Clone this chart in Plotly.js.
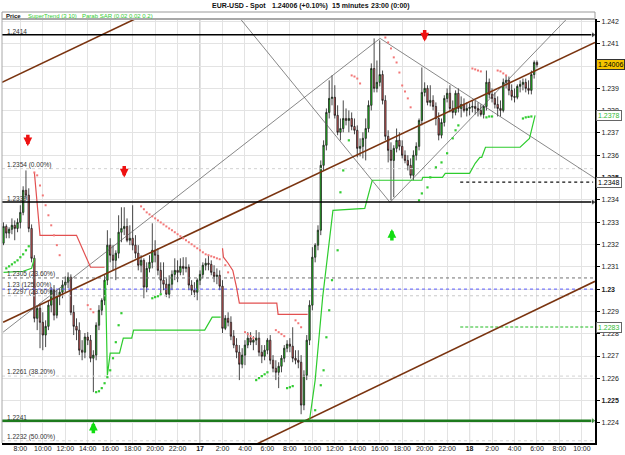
<!DOCTYPE html>
<html><head><meta charset="utf-8">
<script src="https://cdn.plot.ly/plotly-3.0.1.min.js"></script>
<style>html,body{margin:0;padding:0;background:#fff}#chart{width:625px;height:455px}</style>
</head><body><div id="chart"></div>
<script>
// ---------- candles: EUR-USD 15 minutes, first bar 16th 06:30 ----------
const firstBar = Date.UTC(2018, 0, 16, 6, 30);
const barMinutes = 15;
const open = [1.23206,1.23281,1.23251,1.23268,1.23286,1.23272,1.23299,1.23344,1.23443,1.23421,1.23272,1.23138,1.22869,1.22914,1.22851,1.22794,1.22833,1.22928,1.22995,1.22883,1.22968,1.22986,1.23018,1.23031,1.23053,1.22896,1.22833,1.22816,1.22726,1.22717,1.22785,1.22771,1.22690,1.22704,1.22838,1.22905,1.22950,1.23040,1.23197,1.23152,1.23129,1.23161,1.23255,1.23272,1.23281,1.23219,1.23228,1.23197,1.23161,1.23107,1.23129,1.23009,1.23093,1.23120,1.23174,1.23152,1.23084,1.23040,1.23022,1.22977,1.23022,1.23066,1.23084,1.23075,1.23102,1.23093,1.23098,1.23018,1.22995,1.22986,1.23040,1.23066,1.23107,1.23116,1.23111,1.23075,1.23057,1.23062,1.23013,1.22824,1.22869,1.22851,1.22789,1.22749,1.22717,1.22663,1.22704,1.22749,1.22780,1.22762,1.22771,1.22780,1.22717,1.22699,1.22726,1.22771,1.22681,1.22645,1.22627,1.22654,1.22690,1.22735,1.22753,1.22744,1.22690,1.22681,1.22672,1.22480,1.22614,1.22771,1.22928,1.23143,1.23197,1.23264,1.23555,1.23645,1.23792,1.23855,1.23860,1.23779,1.23703,1.23720,1.23765,1.23756,1.23765,1.23729,1.23712,1.23631,1.23640,1.23676,1.23720,1.23824,1.23989,1.23900,1.23927,1.23962,1.23846,1.23685,1.23622,1.23577,1.23631,1.23667,1.23640,1.23600,1.23577,1.23555,1.23510,1.23600,1.23640,1.23756,1.23882,1.23900,1.23837,1.23846,1.23819,1.23765,1.23690,1.23747,1.23855,1.23878,1.23810,1.23792,1.23878,1.23810,1.23828,1.23801,1.23810,1.23815,1.23819,1.23810,1.23801,1.23783,1.23819,1.23927,1.23873,1.23855,1.23828,1.23810,1.23801,1.23927,1.23936,1.23891,1.23864,1.23860,1.23909,1.23918,1.23927,1.23900,1.23891,1.23962,1.24016];
const high = [1.23299,1.23290,1.23277,1.23317,1.23308,1.23317,1.23376,1.23461,1.23532,1.23452,1.23290,1.23152,1.22928,1.22937,1.22896,1.22860,1.22950,1.23009,1.23018,1.22995,1.23004,1.23040,1.23057,1.23075,1.23066,1.22928,1.22869,1.22851,1.22771,1.22803,1.22807,1.22794,1.22726,1.22851,1.22928,1.22959,1.23062,1.23264,1.23228,1.23197,1.23174,1.23331,1.23367,1.23367,1.23317,1.23286,1.23376,1.23242,1.23197,1.23152,1.23138,1.23120,1.23152,1.23295,1.23219,1.23183,1.23120,1.23120,1.23048,1.23062,1.23084,1.23138,1.23129,1.23138,1.23143,1.23143,1.23111,1.23040,1.23031,1.23048,1.23084,1.23120,1.23138,1.23152,1.23129,1.23107,1.23093,1.23084,1.23040,1.22883,1.22896,1.22878,1.22816,1.22780,1.22749,1.22735,1.22771,1.22807,1.22807,1.22789,1.22816,1.22807,1.22749,1.22749,1.22780,1.22794,1.22704,1.22681,1.22672,1.22704,1.22749,1.22771,1.22780,1.22829,1.22726,1.22726,1.22704,1.22636,1.22794,1.22950,1.23188,1.23206,1.23286,1.23577,1.23667,1.23810,1.23936,1.23958,1.23914,1.23824,1.23765,1.23846,1.23810,1.23801,1.23792,1.23765,1.23734,1.23676,1.23703,1.23765,1.23846,1.24012,1.24124,1.24025,1.24115,1.23980,1.23869,1.23712,1.23658,1.23645,1.23720,1.23703,1.23667,1.23622,1.23600,1.23586,1.23622,1.23658,1.23765,1.23994,1.23927,1.23914,1.23914,1.23869,1.23837,1.23792,1.23765,1.23869,1.23900,1.23914,1.23846,1.23891,1.23900,1.23864,1.23855,1.23837,1.23833,1.23846,1.23846,1.23837,1.23828,1.23824,1.23980,1.23944,1.23900,1.23882,1.23864,1.23846,1.23944,1.23958,1.23953,1.23918,1.23900,1.23918,1.23936,1.23944,1.23944,1.23936,1.23980,1.24025,1.24025];
const low = [1.23197,1.23228,1.23228,1.23246,1.23219,1.23255,1.23272,1.23331,1.23407,1.23255,1.23120,1.22851,1.22816,1.22735,1.22726,1.22740,1.22816,1.22896,1.22860,1.22869,1.22928,1.22959,1.22986,1.23004,1.22883,1.22794,1.22771,1.22704,1.22681,1.22690,1.22749,1.22672,1.22538,1.22681,1.22816,1.22883,1.22928,1.23018,1.23120,1.23084,1.23040,1.23138,1.23210,1.23242,1.23210,1.23197,1.23174,1.23138,1.23084,1.23075,1.22959,1.22986,1.23075,1.23093,1.23120,1.23062,1.22982,1.22995,1.22964,1.22959,1.22995,1.23040,1.23031,1.23062,1.23062,1.23075,1.22995,1.22973,1.22964,1.22950,1.23018,1.23048,1.23084,1.23084,1.23062,1.23031,1.23022,1.22995,1.22803,1.22816,1.22833,1.22771,1.22735,1.22690,1.22592,1.22645,1.22659,1.22735,1.22749,1.22726,1.22749,1.22699,1.22668,1.22681,1.22708,1.22663,1.22627,1.22592,1.22556,1.22627,1.22672,1.22717,1.22717,1.22672,1.22663,1.22645,1.22439,1.22457,1.22592,1.22749,1.22905,1.23120,1.23174,1.23242,1.23532,1.23622,1.23765,1.23824,1.23765,1.23690,1.23667,1.23703,1.23734,1.23703,1.23712,1.23694,1.23591,1.23595,1.23586,1.23577,1.23703,1.23801,1.23882,1.23882,1.23909,1.23828,1.23667,1.23568,1.23398,1.23412,1.23613,1.23622,1.23586,1.23564,1.23532,1.23496,1.23488,1.23577,1.23622,1.23734,1.23864,1.23824,1.23819,1.23801,1.23734,1.23667,1.23676,1.23729,1.23837,1.23792,1.23765,1.23779,1.23792,1.23770,1.23792,1.23774,1.23779,1.23792,1.23783,1.23774,1.23774,1.23765,1.23801,1.23855,1.23837,1.23810,1.23774,1.23774,1.23792,1.23900,1.23869,1.23846,1.23837,1.23851,1.23882,1.23891,1.23882,1.23873,1.23873,1.23944,1.23994];
const close = [1.23281,1.23251,1.23268,1.23286,1.23272,1.23299,1.23344,1.23443,1.23421,1.23272,1.23138,1.22869,1.22914,1.22851,1.22794,1.22833,1.22928,1.22995,1.22883,1.22968,1.22986,1.23018,1.23031,1.23053,1.22896,1.22833,1.22816,1.22726,1.22717,1.22785,1.22771,1.22690,1.22704,1.22838,1.22905,1.22950,1.23040,1.23197,1.23152,1.23129,1.23161,1.23255,1.23272,1.23281,1.23219,1.23228,1.23197,1.23161,1.23107,1.23129,1.23009,1.23093,1.23120,1.23174,1.23152,1.23084,1.23040,1.23022,1.22977,1.23022,1.23066,1.23084,1.23075,1.23102,1.23093,1.23098,1.23018,1.22995,1.22986,1.23040,1.23066,1.23107,1.23116,1.23111,1.23075,1.23057,1.23062,1.23013,1.22824,1.22869,1.22851,1.22789,1.22749,1.22717,1.22663,1.22704,1.22749,1.22780,1.22762,1.22771,1.22780,1.22717,1.22699,1.22726,1.22771,1.22681,1.22645,1.22627,1.22654,1.22690,1.22735,1.22753,1.22744,1.22690,1.22681,1.22672,1.22480,1.22614,1.22771,1.22928,1.23143,1.23197,1.23264,1.23555,1.23645,1.23792,1.23855,1.23860,1.23779,1.23703,1.23720,1.23765,1.23756,1.23765,1.23729,1.23712,1.23631,1.23640,1.23676,1.23720,1.23824,1.23989,1.23900,1.23927,1.23962,1.23846,1.23685,1.23622,1.23577,1.23631,1.23667,1.23640,1.23600,1.23577,1.23555,1.23510,1.23600,1.23640,1.23756,1.23882,1.23900,1.23837,1.23846,1.23819,1.23765,1.23690,1.23747,1.23855,1.23878,1.23810,1.23792,1.23878,1.23810,1.23828,1.23801,1.23810,1.23815,1.23819,1.23810,1.23801,1.23783,1.23819,1.23927,1.23873,1.23855,1.23828,1.23810,1.23801,1.23927,1.23936,1.23891,1.23864,1.23860,1.23909,1.23918,1.23927,1.23900,1.23891,1.23962,1.24016,1.24006];

// ---------- SuperTrend (3 10) ----------
const stGreen1T = ['2018-01-16 06:30','2018-01-16 08:15','2018-01-16 09:00','2018-01-16 09:15'];
const stGreen1P = [1.23075,1.23080,1.23093,1.23138];
const stRed1T = ['2018-01-16 09:15','2018-01-16 09:45','2018-01-16 13:00','2018-01-16 14:15','2018-01-16 15:30'];
const stRed1P = [1.23523,1.23241,1.23241,1.23098,1.23098];
const stGreen2T = ['2018-01-16 15:35','2018-01-16 15:45','2018-01-16 16:00','2018-01-16 16:50','2018-01-16 17:10','2018-01-16 17:55','2018-01-16 18:05','2018-01-17 00:25','2018-01-17 01:05','2018-01-17 01:50'];
const stGreen2P = [1.23040,1.22614,1.22713,1.22713,1.22780,1.22780,1.22816,1.22816,1.22874,1.22874];
const stRed2T = ['2018-01-17 02:00','2018-01-17 02:05','2018-01-17 02:30','2018-01-17 02:55','2018-01-17 03:15','2018-01-17 03:30','2018-01-17 06:50','2018-01-17 06:57','2018-01-17 09:35'];
const stRed2P = [1.23183,1.23143,1.23116,1.23084,1.23008,1.22937,1.22937,1.22887,1.22887];
const stGreen3T = ['2018-01-17 09:45','2018-01-17 10:15','2018-01-17 10:55','2018-01-17 11:35','2018-01-17 11:50','2018-01-17 14:40','2018-01-17 15:20','2018-01-17 19:45','2018-01-17 19:50','2018-01-17 21:35','2018-01-17 21:50','2018-01-18 00:00','2018-01-18 00:30','2018-01-18 00:55','2018-01-18 01:05','2018-01-18 01:25','2018-01-18 04:30','2018-01-18 05:20','2018-01-18 05:50'];
const stGreen3P = [1.22412,1.22592,1.22963,1.23232,1.23353,1.23362,1.23488,1.23488,1.23501,1.23501,1.23519,1.23519,1.23564,1.23591,1.23591,1.23636,1.23636,1.23676,1.23779];

// ---------- Parabolic SAR (bar index, value) ----------
const sarUpIdx = [1,2,3,4,5,6,7,8,9,33,34,35,36,37,38,39,40,41,42,53,54,55,56,90,91,92,93,94,101,102,103,111,113,114,115,116,117,119,120,121,123,148,149,151,152,154,156,158,160,161,162,172,173,174,185,186,187,188];
const sarUpVal = [1.23093,1.23102,1.23111,1.23120,1.23129,1.23143,1.23156,1.23174,1.23192,1.22538,1.22542,1.22556,1.22578,1.22605,1.22636,1.22690,1.22762,1.22838,1.22892,1.22959,1.22964,1.22968,1.22977,1.22592,1.22601,1.22610,1.22618,1.22627,1.22556,1.22560,1.22565,1.22457,1.22569,1.22636,1.22784,1.22905,1.23040,1.23174,1.23434,1.23532,1.23667,1.23398,1.23429,1.23456,1.23501,1.23546,1.23568,1.23609,1.23676,1.23712,1.23734,1.23770,1.23774,1.23774,1.23765,1.23770,1.23772,1.23774];
const sarDnIdx = [11,12,13,14,15,16,17,18,19,20,30,31,32,49,50,51,52,53,54,55,56,57,58,59,60,61,62,63,64,65,66,67,68,69,70,71,72,73,74,75,76,77,79,80,86,87,88,89,97,98,99,100,104,105,106,124,125,126,127,136,137,138,139,140,141,142,143,144,145,167,168,169,170,176,177,178,179];
const sarDnVal = [1.23523,1.23510,1.23465,1.23420,1.23376,1.23331,1.23286,1.23241,1.23197,1.23152,1.22928,1.22910,1.22896,1.23371,1.23358,1.23344,1.23335,1.23326,1.23317,1.23308,1.23299,1.23290,1.23281,1.23272,1.23264,1.23255,1.23246,1.23237,1.23228,1.23219,1.23210,1.23201,1.23192,1.23183,1.23174,1.23165,1.23156,1.23152,1.23147,1.23143,1.23138,1.23134,1.23107,1.23075,1.22807,1.22798,1.22789,1.22780,1.22816,1.22807,1.22798,1.22789,1.22860,1.22847,1.22829,1.23958,1.23953,1.23944,1.23922,1.24128,1.24106,1.24079,1.24039,1.24016,1.23971,1.23913,1.23886,1.23855,1.23815,1.23989,1.23985,1.23980,1.23976,1.23980,1.23976,1.23967,1.23958];

// ---------- drawn trend lines (two anchor points each) ----------
const brownLineT = [['2018-01-16 06:22','2018-01-16 18:40'],['2018-01-16 06:28','2018-01-18 11:10'],['2018-01-17 04:27','2018-01-18 11:10']];
const brownLineP = [[1.23927,1.24222],[1.22851,1.24106],[1.22291,1.23035]];
const thinLineT = [['2018-01-16 06:28','2018-01-17 16:02'],['2018-01-17 16:02','2018-01-18 11:10'],['2018-01-17 03:34','2018-01-17 16:55'],['2018-01-17 16:55','2018-01-18 08:41']];
const thinLineP = [[1.22807,1.24124],[1.24124,1.23497],[1.24213,1.23389],[1.23389,1.24213]];

// ---------- horizontal levels ----------
const lineStart = '2018-01-16 06:22';
const lineEnd = '2018-01-18 11:00';
const blackLevels = [1.2414, 1.2339];
const blackLabels = ['1.2414', '1.2339'];
const supportLevel = 1.2241;
const supportLabel = '1.2241';
const fibPrices = [1.2354, 1.2305, 1.2300, 1.2297, 1.2261, 1.2232];
const fibLabels = ['1.2354 (0.00%)', '1.2305 (23.60%)', '1.23 (125.00%)', '1.2297 (23.60%)', '1.2261 (38.20%)', '1.2232 (50.00%)'];
const partStart = '2018-01-17 23:10';
const dottedLevel = 1.2348;
const greenDashLevel = 1.2283;

// ---------- signal arrows ----------
const sellTimes = ['2018-01-16 08:40', '2018-01-16 17:15', '2018-01-17 20:00'];
const sellPrices = [1.2364, 1.2350, 1.2411];
const buyTimes = ['2018-01-16 14:30', '2018-01-17 17:05'];
const buyPrices = [1.22405, 1.2327];

// ---------- right-side price tags ----------
const tagPrices = [1.24006, 1.2378, 1.2348, 1.2283];
const tagTexts = ['1.24006', '1.2378', '1.2348', '1.2283'];

// ---------- header texts ----------
const titleParts = ['EUR-USD - Spot', '1.24006 (+0.10%)', '15 minutes', '23:00 (0:00)'];
const legendParts = ['Price', 'SuperTrend (3 10)', 'Parab SAR (0.02 0.02 0.2)'];

// ---------- axes ----------
const xTickTimes = ['2018-01-16 08:00','2018-01-16 10:00','2018-01-16 12:00','2018-01-16 14:00','2018-01-16 16:00','2018-01-16 18:00','2018-01-16 20:00','2018-01-16 22:00','2018-01-17 00:00','2018-01-17 02:00','2018-01-17 04:00','2018-01-17 06:00','2018-01-17 08:00','2018-01-17 10:00','2018-01-17 12:00','2018-01-17 14:00','2018-01-17 16:00','2018-01-17 18:00','2018-01-17 20:00','2018-01-17 22:00','2018-01-18 00:00','2018-01-18 02:00','2018-01-18 04:00','2018-01-18 06:00','2018-01-18 08:00','2018-01-18 10:00'];
const xTickLabels = ['8:00','10:00','12:00','14:00','16:00','18:00','20:00','22:00','<b>17</b>','2:00','4:00','6:00','8:00','10:00','12:00','14:00','16:00','18:00','20:00','22:00','<b>18</b>','2:00','4:00','6:00','8:00','10:00'];
const dayLines = ['2018-01-17 00:00', '2018-01-18 00:00'];
const yTickVals = [1.224,1.225,1.226,1.227,1.228,1.229,1.230,1.231,1.232,1.233,1.234,1.235,1.236,1.237,1.238,1.239,1.240,1.241,1.242];
const yTickLabels = ['1.224','<b>1.225</b>','1.226','1.227','1.228','1.229','<b>1.23</b>','1.231','1.232','1.233','1.234','<b>1.235</b>','1.236','1.237','1.238','1.239','<b>1.24</b>','1.241','1.242'];

// ---------- build ----------
function fmt(ms) {
  const d = new Date(ms), p = n => String(n).padStart(2, '0');
  return d.getUTCFullYear() + '-' + p(d.getUTCMonth() + 1) + '-' + p(d.getUTCDate()) + ' ' + p(d.getUTCHours()) + ':' + p(d.getUTCMinutes());
}
const times = close.map((_, i) => fmt(firstBar + i * barMinutes * 60000));

const FONT = 'Liberation Sans, Arial, sans-serif';
const GREEN = '#2ecc2e', RED = '#e25050', BROWN = '#7a3410';
const traces = [];

traces.push({
  type: 'candlestick', x: times, open: open, high: high, low: low, close: close,
  increasing: { line: { color: '#1a1a1a', width: 0.8 }, fillcolor: '#22e022' },
  decreasing: { line: { color: '#1a1a1a', width: 0.8 }, fillcolor: '#f06565' },
  whiskerwidth: 0, hoverinfo: 'skip', showlegend: false
});

// fib lines
const fibColors = ['#d2d2d2', '#707070', '#5a5aff', '#c8c8c8', '#d2d2d2', '#d2d2d2'];
fibPrices.forEach((p, k) => traces.push({
  type: 'scatter', mode: 'lines', x: [lineStart, lineEnd], y: [p, p],
  line: { color: fibColors[k], width: 1, dash: 'dot' }, hoverinfo: 'skip', showlegend: false
}));

// partial levels
traces.push({ type: 'scatter', mode: 'lines', x: [partStart, lineEnd], y: [dottedLevel, dottedLevel],
  line: { color: '#111', width: 1.2, dash: 'dot' }, hoverinfo: 'skip', showlegend: false });
traces.push({ type: 'scatter', mode: 'lines', x: [partStart, lineEnd], y: [greenDashLevel, greenDashLevel],
  line: { color: '#22bb22', width: 1.2, dash: '3px,2px' }, hoverinfo: 'skip', showlegend: false });

// trend lines
brownLineT.forEach((t, k) => traces.push({ type: 'scatter', mode: 'lines', x: t, y: brownLineP[k],
  line: { color: BROWN, width: 1.6 }, hoverinfo: 'skip', showlegend: false }));
thinLineT.forEach((t, k) => traces.push({ type: 'scatter', mode: 'lines', x: t, y: thinLineP[k],
  line: { color: '#555', width: 0.7 }, hoverinfo: 'skip', showlegend: false }));

// SuperTrend
[[stGreen1T, stGreen1P, GREEN], [stRed1T, stRed1P, RED], [stGreen2T, stGreen2P, GREEN], [stRed2T, stRed2P, RED], [stGreen3T, stGreen3P, GREEN]]
  .forEach(s => traces.push({ type: 'scatter', mode: 'lines', x: s[0], y: s[1],
    line: { color: s[2], width: 1.2 }, hoverinfo: 'skip', showlegend: false }));

// SAR
traces.push({ type: 'scatter', mode: 'markers', x: sarUpIdx.map(i => times[i]), y: sarUpVal,
  marker: { color: '#33cc33', size: 2.2, symbol: 'square' }, hoverinfo: 'skip', showlegend: false });
traces.push({ type: 'scatter', mode: 'markers', x: sarDnIdx.map(i => times[i]), y: sarDnVal,
  marker: { color: '#f27777', size: 2.0, symbol: 'square' }, hoverinfo: 'skip', showlegend: false });

// black & green arrow levels
blackLevels.forEach(p => traces.push({ type: 'scatter', mode: 'lines+markers', x: [lineStart, lineEnd], y: [p, p],
  line: { color: '#000', width: 1.5 }, marker: { symbol: 'triangle-right', size: [0, 6], color: '#000' },
  cliponaxis: false, hoverinfo: 'skip', showlegend: false }));
traces.push({ type: 'scatter', mode: 'lines+markers', x: [lineStart, lineEnd], y: [supportLevel, supportLevel],
  line: { color: '#1d7a1d', width: 2.4 }, marker: { symbol: 'triangle-right', size: [0, 6], color: '#1d7a1d' },
  cliponaxis: false, hoverinfo: 'skip', showlegend: false });

// ---------- annotations ----------
const ann = [];
const yPix = px => (443 - px) / 424;   // paper y for a pixel row
const xPix = px => (px - 2) / 593;     // paper x for a pixel column
const titleX = [239, 300, 350, 390];
titleParts.forEach((t, k) => ann.push({ xref: 'paper', yref: 'paper', x: xPix(titleX[k]), y: yPix(6), xanchor: 'center', yanchor: 'middle',
  showarrow: false, text: '<b>' + t + '</b>', font: { family: FONT, size: 7, color: '#111' } }));
const legendX = [4, 26, 80];
const legendColor = ['#111', '#33cc33', '#33cc33'];
legendParts.forEach((t, k) => ann.push({ xref: 'paper', yref: 'paper', x: xPix(legendX[k]), y: yPix(15.5), xanchor: 'left', yanchor: 'middle',
  showarrow: false, text: k === 0 ? '<b>' + t + '</b>' : t, font: { family: FONT, size: 6, color: legendColor[k] } }));

const lab = (p, t) => ({ xref: 'paper', yref: 'y', x: 0, y: p, xanchor: 'left', yanchor: 'bottom', xshift: 3, yshift: -2,
  showarrow: false, text: t, font: { family: FONT, size: 6.5, color: '#333' } });
blackLevels.forEach((p, k) => ann.push(lab(p, blackLabels[k])));
ann.push(lab(supportLevel, supportLabel));
fibPrices.forEach((p, k) => ann.push(lab(p, fibLabels[k])));

sellTimes.forEach((t, k) => ann.push({ x: t, y: sellPrices[k], xref: 'x', yref: 'y', text: '', showarrow: true,
  arrowhead: 2, arrowsize: 0.5, arrowwidth: 3.5, arrowcolor: '#ee1111', ax: 0, ay: -13 }));
buyTimes.forEach((t, k) => ann.push({ x: t, y: buyPrices[k], xref: 'x', yref: 'y', text: '', showarrow: true,
  arrowhead: 2, arrowsize: 0.5, arrowwidth: 3.5, arrowcolor: '#11dd11', ax: 0, ay: 13 }));

const tagStyle = [
  { bg: '#f5c400', border: '#333', color: '#000' },
  { bg: '#fff', border: '#666', color: '#33bb33' },
  { bg: '#fff', border: '#666', color: '#000' },
  { bg: '#fff', border: '#666', color: '#33bb33' }];
tagPrices.forEach((p, k) => ann.push({ xref: 'paper', yref: 'y', x: 1, y: p, xanchor: 'left', yanchor: 'middle', xshift: 1,
  showarrow: false, text: tagTexts[k], bgcolor: tagStyle[k].bg, bordercolor: tagStyle[k].border, borderwidth: 1, borderpad: 1,
  font: { family: FONT, size: 7, color: tagStyle[k].color } }));

// ---------- shapes ----------
const shapes = [
  { type: 'rect', xref: 'paper', yref: 'paper', x0: 0, x1: 1, y0: 1, y1: yPix(12), line: { color: '#9a9a9a', width: 1 }, layer: 'below' },
  { type: 'line', xref: 'paper', yref: 'paper', x0: 0, x1: 1, y0: 1, y1: 1, line: { color: '#a8a8a8', width: 2 } },
  { type: 'line', xref: 'paper', yref: 'paper', x0: 0, x1: 0, y0: 0, y1: 1, line: { color: '#a8a8a8', width: 1 } }
];
dayLines.forEach(d => shapes.push({ type: 'line', xref: 'x', yref: 'paper', x0: d, x1: d, y0: 0, y1: 1,
  line: { color: '#9c9c9c', width: 1 }, layer: 'below' }));

const layout = {
  width: 625, height: 455,
  margin: { l: 2, r: 30, t: 19, b: 12, pad: 0 },
  paper_bgcolor: '#fff', plot_bgcolor: '#fff',
  showlegend: false, hovermode: false,
  xaxis: {
    type: 'date', range: ['2018-01-16 06:22', '2018-01-18 11:10'], rangeslider: { visible: false },
    tickmode: 'array', tickvals: xTickTimes, ticktext: xTickLabels,
    showgrid: true, gridcolor: '#e3e3e3', gridwidth: 1,
    showline: true, linecolor: '#000', linewidth: 2, ticks: '', zeroline: false,
    ticklabelstandoff: -2,
    tickfont: { family: FONT, size: 7, color: '#222' }, fixedrange: true
  },
  yaxis: {
    side: 'right', range: [1.2231, 1.24211],
    tickmode: 'array', tickvals: yTickVals, ticktext: yTickLabels,
    showgrid: true, gridcolor: '#e3e3e3', gridwidth: 1,
    showline: true, linecolor: '#000', linewidth: 2, ticks: 'outside', ticklen: 3, tickcolor: '#000', tickwidth: 1,
    zeroline: false, tickfont: { family: FONT, size: 7, color: '#222' }, fixedrange: true
  },
  annotations: ann, shapes: shapes
};

Plotly.newPlot('chart', traces, layout, { staticPlot: true, displayModeBar: false });
</script>
</body></html>
